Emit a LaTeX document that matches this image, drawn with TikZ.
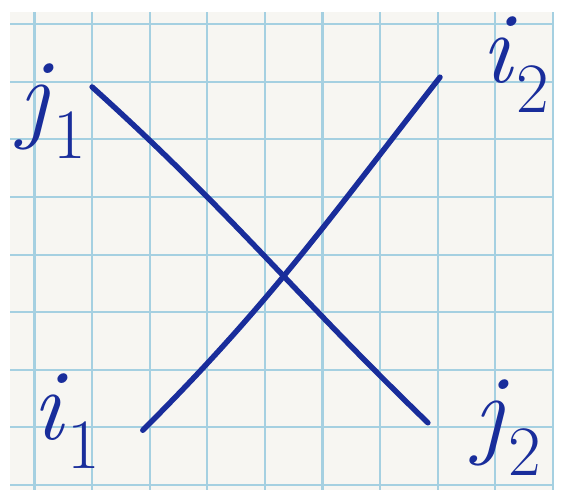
\documentclass[tikz,border=0pt]{standalone}

\newcommand*{\xmin}{-0.425}
\newcommand*{\xmax}{9.02}
\newcommand*{\ymin}{-0.087}
\newcommand*{\ymax}{8.21}

\definecolor{ink}{RGB}{25,45,155}
\definecolor{gridblue}{RGB}{165,208,225}
\definecolor{paper}{RGB}{247,246,242}

\begin{document}
\begin{tikzpicture}
[
	strand/.style={ink,line width=2.7pt,line cap=round},
	gridline/.style={gridblue,line width=1pt},
	lbl/.style={text=ink,font=\fontsize{50}{50}\selectfont,inner sep=0pt}
]
	\useasboundingbox (-0.599,-0.139) rectangle (9.141,8.42);

	% paper
	\fill[paper] (\xmin,\ymin) rectangle (\xmax,\ymax);

	% grid
	\foreach \x in {0,...,9} {
		\draw[gridline] (\x,\ymin) -- (\x,\ymax);
	}
	\foreach \y in {0,...,8} {
		\draw[gridline] (\xmin,\y) -- (\xmax,\y);
	}

	% end points
	\coordinate (j1end) at (1.00,6.91);
	\coordinate (j2end) at (6.83,1.08);
	\coordinate (i1end) at (1.88,0.95);
	\coordinate (i2end) at (7.04,7.08);

	% labels
	\node[lbl] (j1) at (0.32,6.49) {\textit{j}\textsubscript{1}};
	\node[lbl] (i2) at (8.36,7.30) {\textit{i}\textsubscript{2}};
	\node[lbl] (i1) at (0.56,1.11) {\textit{i}\textsubscript{1}};
	\node[lbl] (j2) at (8.22,1.00) {\textit{j}\textsubscript{2}};

	% strands
	\draw[strand] (j1end) to[out=-42,in=136] (j2end);
	\draw[strand] (i1end) to[out=45,in=-128] (i2end);

\end{tikzpicture}
\end{document}
